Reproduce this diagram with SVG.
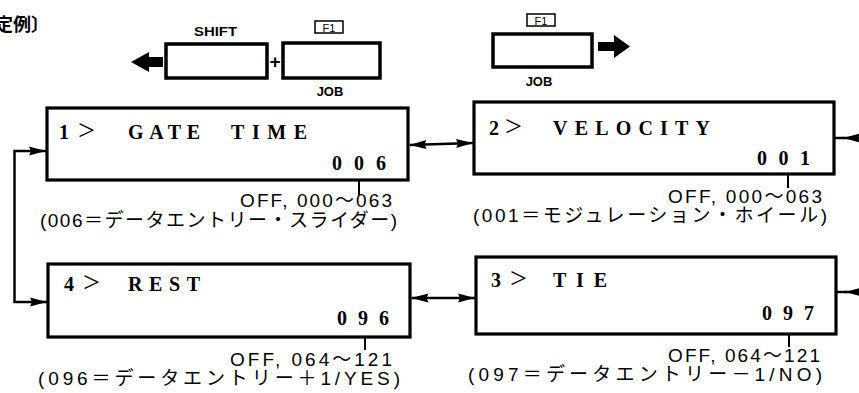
<svg xmlns="http://www.w3.org/2000/svg" width="859" height="393" viewBox="0 0 859 393">
  <defs>
    <style>
      .box { fill: #fff; stroke: #000; stroke-width: 3.2; }
      .key { fill: #fff; stroke: #000; stroke-width: 3.5; }
      .conn { fill: none; stroke: #000; stroke-width: 2.5; }
      .tick { fill: none; stroke: #000; stroke-width: 2; }
      .lcd { font-family: "Liberation Serif", "Times New Roman", serif; font-weight: bold; font-size: 20px; fill: #000; }
      .gt { font-family: "Liberation Serif", "Times New Roman", serif; font-size: 30px; fill: #000; }
      .note { font-family: "Liberation Sans", Arial, "Noto Sans CJK JP", sans-serif; font-size: 19px; fill: #000; }
      .lbl { font-family: "Liberation Sans", Arial, sans-serif; font-weight: bold; font-size: 13px; fill: #000; }
      .plus { font-family: "Liberation Sans", Arial, sans-serif; font-weight: bold; font-size: 19px; fill: #000; }
      .fkey { font-family: "Liberation Sans", Arial, sans-serif; font-size: 11px; fill: #000; }
      .title { font-family: "Noto Sans CJK JP", sans-serif; font-weight: bold; font-size: 18px; fill: #000; }
    </style>
    <marker id="arrow" markerUnits="userSpaceOnUse" markerWidth="17" markerHeight="10" viewBox="0 0 17 10" refX="17" refY="5" orient="auto-start-reverse">
      <path d="M0,0.5 L17,5 L0,9.5 L2,5 z" fill="#000"/>
    </marker>
  </defs>

  <!-- heading -->
  <text class="title" x="-5" y="31">定例〕</text>

  <!-- key operation: SHIFT + F1 (back) -->
  <g id="keys-back">
    <polygon points="131,62 149,52 149,57 163,57 163,67 149,67 149,72" fill="#000"/>
    <text class="lbl" x="194" y="36" textLength="43" lengthAdjust="spacingAndGlyphs">SHIFT</text>
    <rect class="key" x="166" y="44" width="101" height="34"/>
    <text class="plus" x="275" y="68" text-anchor="middle">+</text>
    <rect class="key" x="283" y="43" width="97" height="35"/>
    <rect x="315" y="21" width="28" height="12" fill="none" stroke="#000" stroke-width="1.5"/>
    <text class="fkey" x="329" y="31.5" text-anchor="middle">F1</text>
    <text class="lbl" x="330" y="96" text-anchor="middle">JOB</text>
  </g>

  <!-- key operation: F1 (forward) -->
  <g id="keys-forward">
    <rect x="527" y="14" width="28" height="12" fill="none" stroke="#000" stroke-width="1.5"/>
    <text class="fkey" x="541" y="24.5" text-anchor="middle">F1</text>
    <rect class="key" x="493" y="34" width="99" height="33"/>
    <text class="lbl" x="539" y="86" text-anchor="middle">JOB</text>
    <polygon points="598,42 614,42 614,35 630,46.5 614,58 614,51 598,51" fill="#000"/>
  </g>

  <!-- connectors -->
  <g id="connectors">
    <path class="conn" d="M46,151 H14.5 V302 H47" marker-start="url(#arrow)" marker-end="url(#arrow)"/>
    <path class="conn" d="M409.5,145 L473,143" marker-start="url(#arrow)" marker-end="url(#arrow)"/>
    <path class="conn" d="M411.5,298 L475,298" marker-start="url(#arrow)" marker-end="url(#arrow)"/>
    <path class="conn" d="M859,138 H843" marker-end="url(#arrow)"/>
    <path class="conn" d="M844,138 H835"/>
    <path class="conn" d="M859,292 H845" marker-end="url(#arrow)"/>
    <path class="conn" d="M846,292 H837"/>
  </g>

  <!-- 1 > GATE TIME -->
  <g id="gate-time">
    <rect class="box" x="47" y="108" width="361" height="72"/>
    <text class="lcd" x="59" y="139">1</text>
    <text class="gt" x="78" y="140">&gt;</text>
    <text class="lcd" x="128" y="139" textLength="72" lengthAdjust="spacing">GATE</text>
    <text class="lcd" x="231" y="139" textLength="76" lengthAdjust="spacing">TIME</text>
    <text class="lcd" x="332" y="170" textLength="54" lengthAdjust="spacing">0 0 6</text>
    <path class="tick" d="M359,180 V195"/>
    <text class="note" x="240" y="207" textLength="152" lengthAdjust="spacing">OFF, 000～063</text>
    <text class="note" x="40" y="227" textLength="357" lengthAdjust="spacing">(006＝データエントリー・スライダー)</text>
  </g>

  <!-- 2 > VELOCITY -->
  <g id="velocity">
    <rect class="box" x="474" y="102" width="360" height="72"/>
    <text class="lcd" x="489" y="135">2</text>
    <text class="gt" x="505" y="136">&gt;</text>
    <text class="lcd" x="553" y="135" textLength="157" lengthAdjust="spacing">VELOCITY</text>
    <text class="lcd" x="757" y="165" textLength="53" lengthAdjust="spacing">0 0 1</text>
    <path class="tick" d="M788,174 V188" stroke-width="1.5"/>
    <text class="note" x="668" y="203" textLength="154" lengthAdjust="spacing">OFF, 000～063</text>
    <text class="note" x="473" y="222" textLength="354" lengthAdjust="spacing">(001＝モジュレーション・ホイール)</text>
  </g>

  <!-- 4 > REST -->
  <g id="rest">
    <rect class="box" x="48" y="264" width="362" height="73"/>
    <text class="lcd" x="64" y="291">4</text>
    <text class="gt" x="83" y="292">&gt;</text>
    <text class="lcd" x="128" y="291" textLength="72" lengthAdjust="spacing">REST</text>
    <text class="lcd" x="337" y="325" textLength="52" lengthAdjust="spacing">0 9 6</text>
    <path class="tick" d="M365,337 V350"/>
    <text class="note" x="230" y="366" textLength="162" lengthAdjust="spacing">OFF, 064～121</text>
    <text class="note" x="38" y="385" textLength="362" lengthAdjust="spacing">(096＝データエントリー＋1/YES)</text>
  </g>

  <!-- 3 > TIE -->
  <g id="tie">
    <rect class="box" x="476" y="257" width="360" height="77"/>
    <text class="lcd" x="491" y="287">3</text>
    <text class="gt" x="510" y="288">&gt;</text>
    <text class="lcd" x="553" y="287" textLength="54" lengthAdjust="spacing">TIE</text>
    <text class="lcd" x="762" y="320" textLength="52" lengthAdjust="spacing">0 9 7</text>
    <path class="tick" d="M789,334 V347"/>
    <text class="note" x="668" y="362" textLength="152" lengthAdjust="spacing">OFF, 064～121</text>
    <text class="note" x="468" y="381" textLength="354" lengthAdjust="spacing">(097＝データエントリー－1/NO)</text>
  </g>
</svg>
